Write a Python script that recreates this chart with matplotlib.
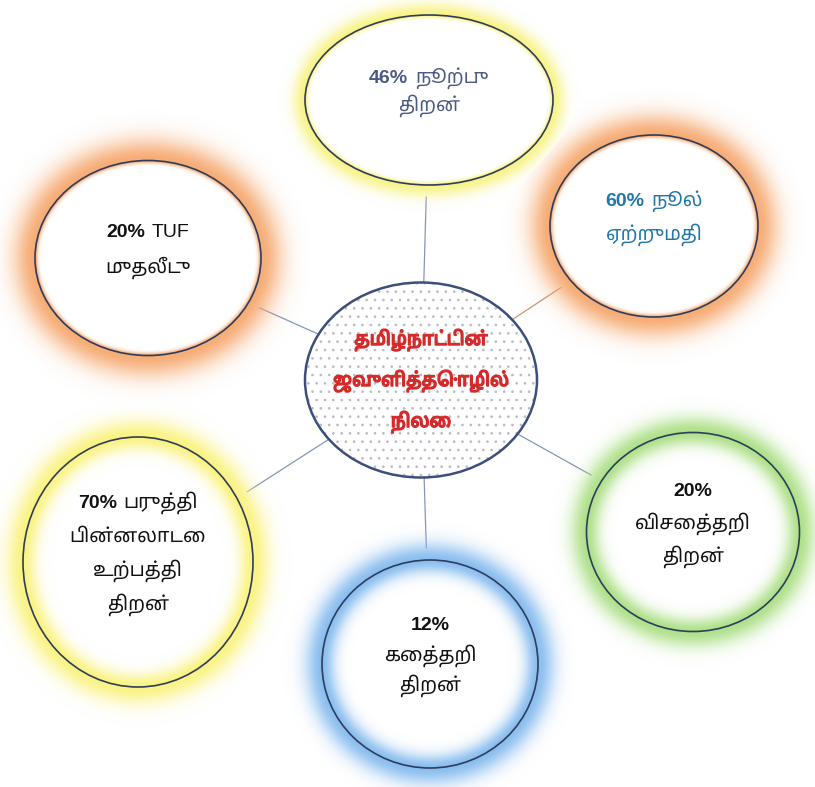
import numpy as np
import matplotlib
matplotlib.use("Agg")
import matplotlib.pyplot as plt
import matplotlib.patheffects as pe
from matplotlib.patches import Ellipse
from matplotlib import font_manager, ft2font

# --- content ------------------------------------------------------------
center_title = ["தமிழ்நாட்டின்", "ஜவுளித்தொழில்", "நிலை"]
percents = ["46%", "60%", "20%", "12%", "70%", "20%"]
words = [
    ["நூற்பு", "திறன்"],
    ["நூல்", "ஏற்றுமதி"],
    ["விசைத்தறி", "திறன்"],
    ["கைத்தறி", "திறன்"],
    ["பருத்தி", "பின்னலாடை", "உற்பத்தி", "திறன்"],
    ["TUF", "முதலீடு"],
]
# percent sits on the same line as the first word?
inline_pct = [True, True, False, False, True, True]

# --- layout (pixels, origin top-left) -----------------------------------
center_box = (421, 380, 232, 195)
boxes = [
    (429, 100, 248, 170),
    (654, 226, 208, 182),
    (693, 532, 213, 199),
    (430, 664, 216, 208),
    (138, 562, 230, 250),
    (148, 258, 226, 195),
]
glow_rgb = [
    (248, 242, 125),
    (246, 165, 105),
    (168, 222, 128),
    (128, 184, 238),
    (250, 242, 120),
    (246, 165, 105),
]
# (outer width, inner width) of the soft glow in px
glow_w = [(12, 3), (21, 3), (16, 13), (17, 13), (17, 13), (22, 3)]
text_col = ["#4d5a86", "#2376aa", "#111111", "#111111", "#111111", "#111111"]
line_col = ["#8596bb", "#c99670", "#8596bb", "#8596bb", "#8596bb", "#8596bb"]
line_gap = [27, 33, 33, 30, 34, 35]


def find_tamil_font():
    have = {}
    for f in font_manager.fontManager.ttflist:
        have.setdefault(f.name, f.fname)
    for name in ["Noto Sans Tamil", "Hind Madurai", "Mukta Malar", "Catamaran",
                 "Anek Tamil", "FreeSans"]:
        if name in have:
            return name
    for name, path in have.items():
        try:
            if 0x0BA4 in ft2font.FT2Font(path).get_charmap():
                return name
        except Exception:
            pass
    return "DejaVu Sans"


tamil_font = find_tamil_font()
fam = ["Liberation Sans", tamil_font, "DejaVu Sans"]
plt.rcParams["font.family"] = fam

W, H = 815, 787
fig = plt.figure(figsize=(W / 100, H / 100), dpi=100)
ax = fig.add_axes([0, 0, 1, 1])
ax.set_xlim(0, W)
ax.set_ylim(H, 0)
ax.axis("off")

# soft glows as one rgba image
yy, xx = np.mgrid[0:H, 0:W] + 0.5
rgba = np.zeros((H, W, 4))
for (cx, cy, w, h), col, (wo, wi) in zip(boxes, glow_rgb, glow_w):
    a, b = w / 2, h / 2
    dx, dy = xx - cx, yy - cy
    r = np.sqrt((dx / a) ** 2 + (dy / b) ** 2) + 1e-9
    grad = np.sqrt(dx ** 2 / a ** 4 + dy ** 2 / b ** 4) / r + 1e-9
    d = (r - 1) / grad
    inten = np.where(d > 0, np.exp(-(d / wo) ** 2), np.exp(-(d / wi) ** 2)) * 0.92
    upd = inten > rgba[..., 3]
    rgba[upd, 0] = col[0] / 255
    rgba[upd, 1] = col[1] / 255
    rgba[upd, 2] = col[2] / 255
    rgba[upd, 3] = inten[upd]
ax.imshow(rgba, extent=[0, W, H, 0], zorder=1, interpolation="bilinear")


def edge_point(cx, cy, w, h, ux, uy):
    t = 1 / np.sqrt((ux / (w / 2)) ** 2 + (uy / (h / 2)) ** 2)
    return cx + t * ux, cy + t * uy


# connectors: from the centre rim out to just before each glow
ccx, ccy, cw, ch = center_box
for (cx, cy, w, h), lc in zip(boxes, line_col):
    ux, uy = cx - ccx, cy - ccy
    n = np.hypot(ux, uy)
    ux, uy = ux / n, uy / n
    x0, y0 = edge_point(ccx, ccy, cw, ch, ux, uy)
    x1, y1 = edge_point(cx, cy, w, h, -ux, -uy)
    x1, y1 = x1 - ux * 12, y1 - uy * 12
    ax.plot([x0, x1], [y0, y1], color=lc, lw=0.9, zorder=0.5)

# outer circles
for cx, cy, w, h in boxes:
    ax.add_patch(Ellipse((cx, cy), w, h, facecolor="none", edgecolor="#2e3d5e",
                         lw=1.2, zorder=3))

# centre: white with a dot pattern
plt.rcParams["hatch.linewidth"] = 0.7
ax.add_patch(Ellipse((ccx, ccy), cw, ch, facecolor="white", edgecolor="#b9bdc8",
                     hatch="..", lw=0, zorder=2))
ax.add_patch(Ellipse((ccx, ccy), cw, ch, facecolor="none", edgecolor="#3c4f7c",
                     lw=1.8, zorder=3))
for i, s in enumerate(center_title):
    ax.text(ccx, ccy - 40 + i * 41, s, ha="center", va="center", fontsize=13.5,
            fontweight="bold", color="#d42a2a", zorder=4,
            path_effects=[pe.withStroke(linewidth=1.1, foreground="#d42a2a")])

fig.canvas.draw()
renderer = fig.canvas.get_renderer()


def centred_pair(x, y, bold, plain, col, size=14):
    t1 = ax.text(x, y, bold, ha="left", va="center", fontsize=size,
                 fontweight="bold", color=col, zorder=4)
    t2 = ax.text(x, y, plain, ha="left", va="center", fontsize=size,
                 color=col, zorder=4)
    w1 = t1.get_window_extent(renderer).width
    w2 = t2.get_window_extent(renderer).width
    gap = 7
    total = w1 + gap + w2
    t1.set_x(x - total / 2)
    t2.set_x(x - total / 2 + w1 + gap)


for (cx, cy, w, h), pct, lines, inl, col, gap in zip(boxes, percents, words,
                                                     inline_pct, text_col, line_gap):
    rows = len(lines) + (0 if inl else 1)
    y = cy - (rows - 1) * gap / 2 - 8
    if inl:
        centred_pair(cx, y, pct, lines[0], col)
        rest = lines[1:]
    else:
        ax.text(cx, y, pct, ha="center", va="center", fontsize=14,
                fontweight="bold", color=col, zorder=4)
        rest = lines
    for s in rest:
        y += gap
        ax.text(cx, y, s, ha="center", va="center", fontsize=14, color=col,
                zorder=4)

fig.savefig("out.png", dpi=100, facecolor="white")
